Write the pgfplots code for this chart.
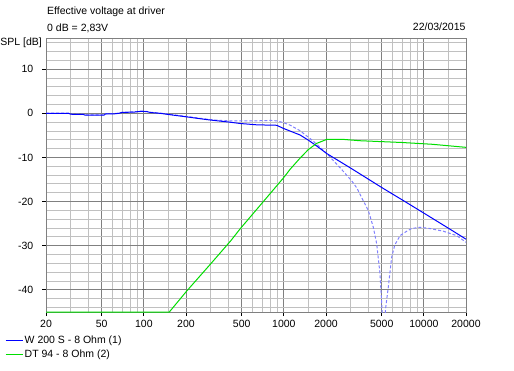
\documentclass[border=0pt]{standalone}
\usepackage{pgfplots}
\pgfplotsset{compat=1.18}
\usepackage{fontspec}
\setmainfont{Liberation Sans}
\definecolor{gmaj}{RGB}{128,128,128}
\definecolor{gmin}{RGB}{192,192,192}
\definecolor{cblue}{RGB}{0,0,255}
\definecolor{cgreen}{RGB}{0,221,0}
\definecolor{cdash}{RGB}{128,128,255}
\begin{document}
\fontsize{10.5bp}{12bp}\selectfont
\begin{tikzpicture}
\useasboundingbox (-46bp,-59bp) rectangle (468bp,312bp);
\begin{axis}[
  at={(0,0)}, anchor=south west,
  scale only axis, width=420bp, height=273.7bp,
  xmode=log, log basis x=10,
  xmin=20, xmax=20000, ymin=-45, ymax=17,
  xtick={20,50,100,200,500,1000,2000,5000,10000,20000},
  xticklabels={20,50,100,200,500,1000,2000,5000,10000,20000},
  minor xtick={30,40,60,70,80,90,150,300,400,600,700,800,900,1500,3000,4000,6000,7000,8000,9000,15000},
  ytick={-40,-30,-20,-10,0,10},
  yticklabels={-40,-30,-20,-10,0,10},
  minor ytick={-44,-42,-38,-36,-34,-32,-28,-26,-24,-22,-18,-16,-14,-12,-8,-6,-4,-2,2,4,6,8,12,14,16},
  grid=both,
  major grid style={draw=gmaj, line width=1bp},
  minor grid style={draw=gmin, line width=1bp},
  axis line style={draw=gmaj, line width=1bp},
  xtick pos=bottom, ytick pos=left,
  tick align=outside,
  major tick length=4bp, minor tick length=0bp,
  tick style={black, line width=1bp},
  xticklabel style={font=\fontsize{10.5bp}{12bp}\selectfont, inner sep=0pt, anchor=north, yshift=-4bp},
  yticklabel style={font=\fontsize{10.5bp}{12bp}\selectfont, inner sep=0pt, anchor=east, xshift=-8.5bp},
  legend style={draw=none, fill=none, at={(axis description cs:-0.0976,-0.08)}, anchor=north west,
    font=\fontsize{10.5bp}{12bp}\selectfont, inner sep=0pt, row sep=2bp,
    nodes={inner sep=1.5bp}},
  legend cell align=left,
  clip=true,
]
\addplot[cdash, line width=1bp, dash pattern=on 3bp off 2bp, forget plot] coordinates {
(20,0.05)(29,0.05)(30,-0.15)(37,-0.2)(38,-0.35)(52,-0.35)(53,-0.1)(62,-0.05)(66,0.05)(70,0.25)(86,0.35)(95,0.5)(105,0.45)(111,0.25)(131,0.05)(153,-0.2)(181,-0.5)(214,-0.8)(250,-1.1)(296,-1.4)(349,-1.6)(412,-1.7)(489,-1.7)(640,-1.7)(800,-1.6)(889,-1.7)(991,-2.1)(1106,-2.66)(1300,-3.9)(1538,-5.7)(1717,-7.0)(2023,-9.1)(2518,-12.3)(3053,-15.3)(3320,-16.9)(3597,-19.1)(4009,-22.0)(4354,-25.8)(4600,-29.5)(4864,-36.4)(4998,-43.2)(5150,-50)(5340,-44)(5570,-39.4)(5888,-32.6)(6200,-29.8)(6761,-27.7)(7542,-26.7)(8170,-26.1)(9384,-25.8)(11060,-26.1)(13770,-26.7)(17170,-27.7)(20000,-29.2)
};
\addplot[cblue, line width=1bp] coordinates {
(20,0)(29,0)(30,-0.2)(37,-0.25)(38,-0.4)(52,-0.4)(53,-0.15)(62,-0.1)(66,0)(70,0.2)(86,0.3)(95,0.45)(105,0.4)(111,0.2)(131,0)(153,-0.3)(181,-0.6)(214,-0.9)(250,-1.2)(296,-1.5)(349,-1.75)(412,-2.0)(489,-2.3)(640,-2.6)(889,-2.7)(991,-3.4)(1106,-4.0)(1304,-4.9)(1496,-6.07)(1717,-7.4)(2023,-9.1)(3000,-12.4)(5000,-16.8)(7000,-19.6)(10000,-22.6)(14940,-26.0)(20000,-28.5)
};
\addlegendentry{W 200 S - 8 Ohm (1)}
\addplot[cgreen, line width=1bp] coordinates {
(20,-45)(152,-45)(203,-40.2)(300,-34.1)(419,-28.8)(489,-26.1)(700,-20.3)(1007,-14.4)(1106,-12.7)(1300,-10.2)(1496,-8.2)(1717,-6.8)(2023,-5.9)(2656,-5.9)(3494,-6.2)(6948,-6.6)(11380,-7.0)(20000,-7.7)
};
\addlegendentry{DT 94 - 8 Ohm (2)}
\end{axis}
\node[anchor=west, inner sep=0pt] at (1bp,300bp) {Effective voltage at driver};
\node[anchor=west, inner sep=0pt] at (1bp,284bp) {0 dB = 2,83V};
\node[anchor=east, inner sep=0pt] at (419.7bp,285bp) {22/03/2015};
\node[anchor=east, inner sep=0pt] at (-4bp,269bp) {SPL [dB]};
\end{tikzpicture}
\end{document}
